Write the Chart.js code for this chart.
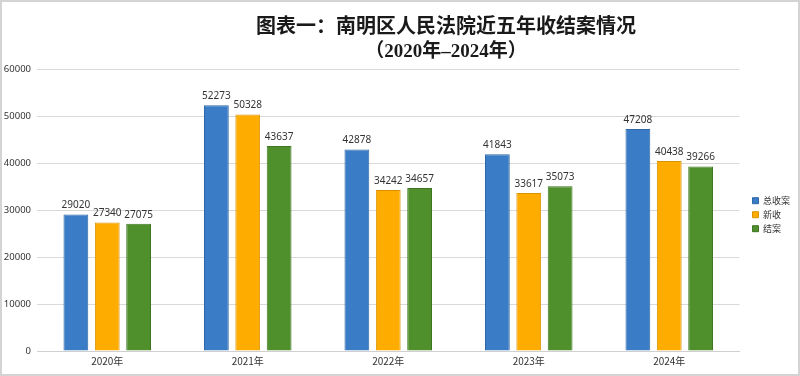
<!DOCTYPE html>
<html>
<head>
<meta charset="utf-8">
<script src="https://cdn.jsdelivr.net/npm/chart.js@4.4.1/dist/chart.umd.min.js"></script>
<style>
  html, body { margin: 0; padding: 0; background: #fff; }
  #wrap { width: 796px; height: 372px; border: 2px solid #d4d4d4; }
</style>
</head>
<body>
<div id="wrap"><canvas id="case-chart" width="796" height="372"></canvas></div>
<script>
const years = ['2020年', '2021年', '2022年', '2023年', '2024年'];
const totalCases = [29020, 52273, 42878, 41843, 47208];
const newCases = [27340, 50328, 34242, 33617, 40438];
const closedCases = [27075, 43637, 34657, 35073, 39266];
const yTicks = [0, 10000, 20000, 30000, 40000, 50000, 60000];
const titleLines = ['图表一：南明区人民法院近五年收结案情况', '（2020年–2024年）'];

// draws the value above each bar
const barValueLabels = {
  id: 'barValueLabels',
  afterDatasetsDraw(chart) {
    const ctx = chart.ctx;
    ctx.save();
    ctx.font = '10px "Noto Sans", sans-serif';
    ctx.fillStyle = '#333';
    ctx.textAlign = 'center';
    ctx.textBaseline = 'bottom';
    chart.data.datasets.forEach((ds, i) => {
      chart.getDatasetMeta(i).data.forEach((bar, j) => {
        ctx.fillText(ds.data[j], bar.x, bar.y - 4);
      });
    });
    ctx.restore();
  }
};

// two-line title, centred a bit right of the canvas middle like the original
const chartTitle = {
  id: 'chartTitle',
  afterDraw(chart) {
    const ctx = chart.ctx;
    ctx.save();
    ctx.font = 'bold 20px "Liberation Serif", "Noto Sans CJK SC", serif';
    ctx.fillStyle = '#1a1a1a';
    ctx.textAlign = 'center';
    ctx.textBaseline = 'middle';
    ctx.fillText(titleLines[0], 444, 26);
    ctx.font = 'bold 19px "Liberation Serif", "Noto Sans CJK SC", serif';
    ctx.fillText(titleLines[1], 444, 50);
    ctx.restore();
  }
};

// legend sits a little away from the plot in the original
const legendGap = {
  id: 'legendGap',
  afterLayout(chart) {
    chart.legend.left += 8;
    chart.legend.right += 8;
  }
};

function initializeChart() {
  const ctx = document.getElementById('case-chart');

  const data = {
    labels: years,
    datasets: [
      { label: '总收案', data: totalCases, backgroundColor: '#3a7cc6', borderColor: '#2f67a6', borderWidth: 1 },
      { label: '新收', data: newCases, backgroundColor: '#ffac00', borderColor: '#d99200', borderWidth: 1 },
      { label: '结案', data: closedCases, backgroundColor: '#4f902c', borderColor: '#3f7523', borderWidth: 1 }
    ]
  };

  const config = {
    type: 'bar',
    data: data,
    options: {
      responsive: false,
      animation: false,
      layout: { padding: { left: 0, right: 6, top: 67, bottom: 3 } },
      datasets: {
        bar: { categoryPercentage: 0.67, barPercentage: 0.79 }
      },
      plugins: {
        legend: {
          position: 'right',
          align: 'start',
          // empty title only used as a spacer to push the items down
          title: { display: true, text: ' ', font: { size: 1 }, padding: { top: 121, bottom: 0 } },
          labels: {
            boxWidth: 6,
            boxHeight: 6,
            padding: 5,
            color: '#333',
            font: { size: 9, family: '"Noto Sans CJK SC", sans-serif' }
          }
        },
        title: { display: false },
        tooltip: { enabled: false }
      },
      scales: {
        x: {
          grid: { display: false, drawTicks: false },
          border: { color: '#d0d0d0' },
          afterFit: axis => { axis.height = 20; },
          ticks: { color: '#333', padding: 4, font: { size: 10, family: '"Noto Sans CJK SC", sans-serif' } }
        },
        y: {
          min: yTicks[0],
          max: yTicks[yTicks.length - 1],
          afterBuildTicks: axis => { axis.ticks = yTicks.map(v => ({ value: v })); },
          afterFit: axis => { axis.width = 35; },
          grid: { color: '#d9d9d9', drawTicks: false },
          border: { display: false },
          ticks: {
            color: '#333',
            padding: 6,
            callback: v => String(v),
            font: { size: 9.5, family: '"Noto Sans", sans-serif' }
          }
        }
      }
    },
    plugins: [barValueLabels, chartTitle, legendGap]
  };

  chartInstance = new Chart(ctx, config);
}

document.addEventListener('DOMContentLoaded', initializeChart);
</script>
</body>
</html>
